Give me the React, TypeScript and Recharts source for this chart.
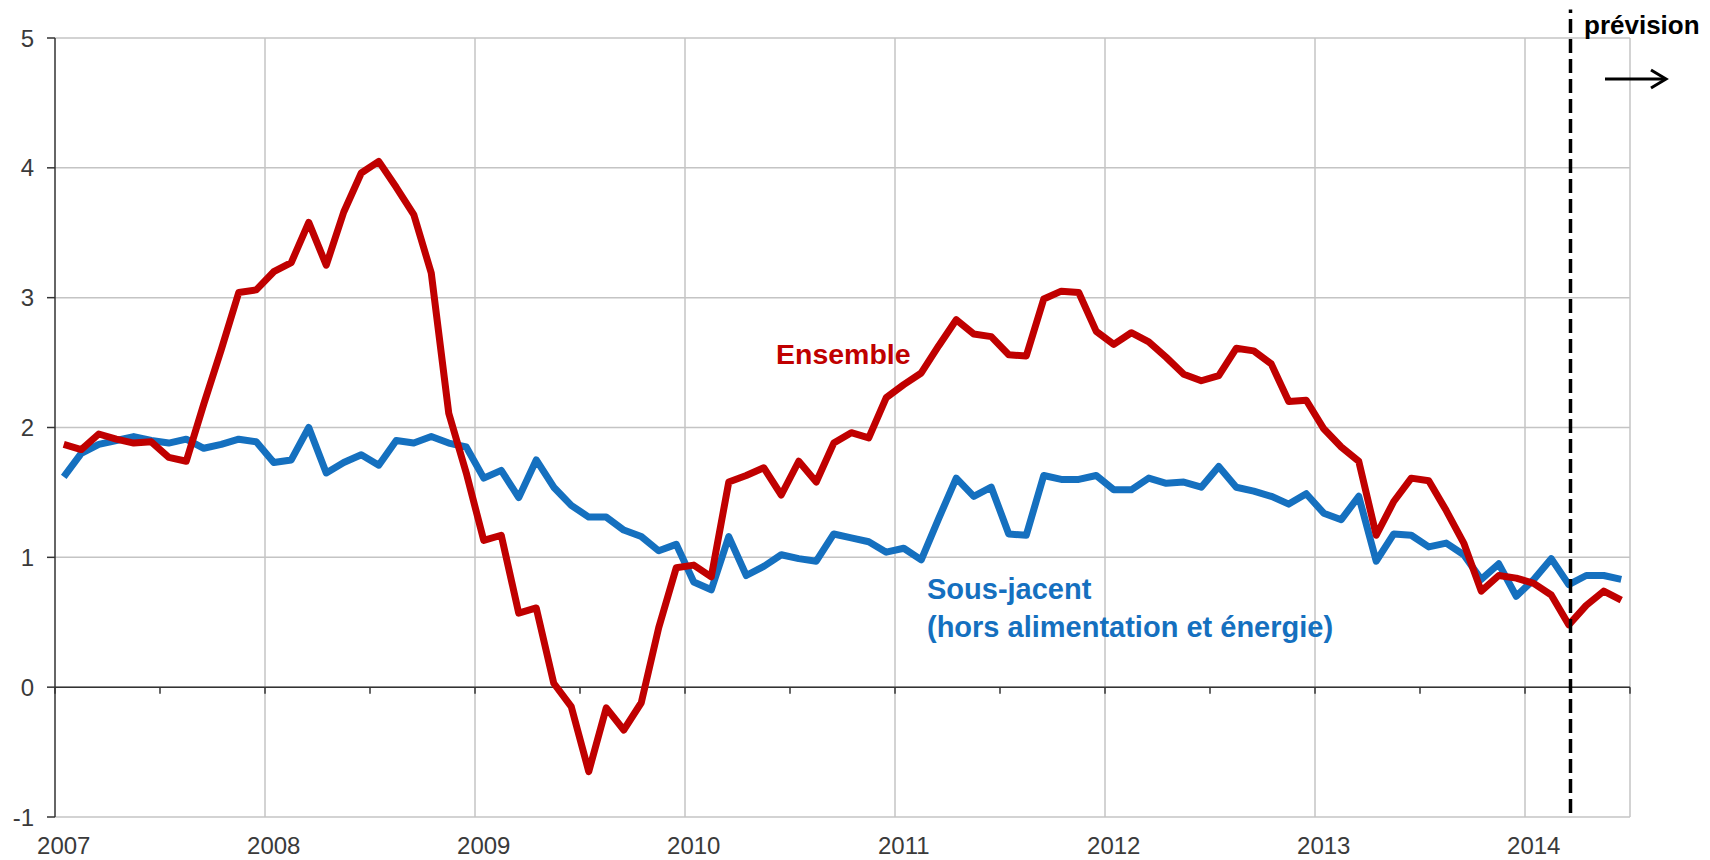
import React from 'react';
import { LineChart, Line, XAxis, YAxis, CartesianGrid, ReferenceLine } from 'recharts';

// monthly year-on-year inflation, Jan 2007 .. Jun 2014
const YEARS = ['2007', '2008', '2009', '2010', '2011', '2012', '2013', '2014'];

const ENSEMBLE = [
  1.87, 1.83, 1.95, 1.91, 1.88, 1.89, 1.77, 1.74, 2.18, 2.6, 3.04, 3.06,
  3.2, 3.27, 3.58, 3.25, 3.66, 3.96, 4.05, 3.85, 3.64, 3.19, 2.11, 1.65,
  1.13, 1.17, 0.57, 0.61, 0.03, -0.15, -0.65, -0.16, -0.33, -0.12, 0.46, 0.92,
  0.94, 0.85, 1.58, 1.63, 1.69, 1.48, 1.74, 1.58, 1.88, 1.96, 1.92, 2.23,
  2.33, 2.42, 2.63, 2.83, 2.72, 2.7, 2.56, 2.55, 2.99, 3.05, 3.04, 2.74,
  2.64, 2.73, 2.66, 2.54, 2.41, 2.36, 2.4, 2.61, 2.59, 2.49, 2.2, 2.21,
  1.99, 1.85, 1.74, 1.17, 1.43, 1.61, 1.59, 1.36, 1.11, 0.74, 0.86, 0.84,
  0.8, 0.71, 0.48, 0.63, 0.74, 0.67,
];

const SOUS_JACENT = [
  1.62, 1.8, 1.87, 1.9, 1.93, 1.9, 1.88, 1.91, 1.84, 1.87, 1.91, 1.89,
  1.73, 1.75, 2.0, 1.65, 1.73, 1.79, 1.71, 1.9, 1.88, 1.93, 1.88, 1.85,
  1.61, 1.67, 1.46, 1.75, 1.54, 1.4, 1.31, 1.31, 1.21, 1.16, 1.05, 1.1,
  0.81, 0.75, 1.16, 0.86, 0.93, 1.02, 0.99, 0.97, 1.18, 1.15, 1.12, 1.04,
  1.07, 0.98, 1.3, 1.61, 1.47, 1.54, 1.18, 1.17, 1.63, 1.6, 1.6, 1.63,
  1.52, 1.52, 1.61, 1.57, 1.58, 1.54, 1.7, 1.54, 1.51, 1.47, 1.41, 1.49,
  1.34, 1.29, 1.47, 0.97, 1.18, 1.17, 1.08, 1.11, 1.02, 0.83, 0.95, 0.7,
  0.83, 0.99, 0.79, 0.86, 0.86, 0.83,
];

const Y_TICKS = [-1, 0, 1, 2, 3, 4, 5];
const X_LABEL_TICKS = YEARS.map((_, k) => k * 12 + 0.5);
const YEAR_LINES = [12, 24, 36, 48, 60, 72, 84, 90];
const HALF_YEAR_TICKS = [0, 6, 12, 18, 24, 30, 36, 42, 48, 54, 60, 66, 72, 78, 84, 90];
const FORECAST_START = 86.6;

const data = ENSEMBLE.map((v, i) => ({ m: i + 0.5, ensemble: v, sousJacent: SOUS_JACENT[i] }));

const FONT = '"Liberation Sans", Arial, sans-serif';
const RED = '#C00000';
const BLUE = '#1570BF';
const GRID = '#c4c4c4';
const AXIS = '#333';
const LABEL = '#3a3a3a';

const App = () => {
  return (
    <div style={{ position: 'absolute', left: 0, top: 0, width: 1710, height: 860, background: '#fff', fontFamily: FONT }}>
      <LineChart width={1710} height={860} data={data} margin={{ top: 38, right: 80, left: 0, bottom: 0 }}>
        <CartesianGrid vertical={false} stroke={GRID} strokeWidth={1.5} />
        {YEAR_LINES.map((x) => (
          <ReferenceLine key={'g' + x} x={x} stroke={GRID} strokeWidth={1.5} />
        ))}
        <XAxis
          dataKey="m"
          type="number"
          domain={[0, 90]}
          ticks={X_LABEL_TICKS}
          tickFormatter={(v: number) => YEARS[Math.round((v - 0.5) / 12)]}
          axisLine={false}
          tickLine={false}
          tickSize={0}
          tickMargin={20}
          height={43}
          interval={0}
          tick={{ fill: LABEL, fontSize: 24, fontFamily: FONT }}
        />
        <YAxis
          type="number"
          domain={[-1, 5]}
          ticks={Y_TICKS}
          width={55}
          interval={0}
          axisLine={{ stroke: AXIS, strokeWidth: 1.5 }}
          tickLine={{ stroke: AXIS, strokeWidth: 1.5 }}
          tickSize={8}
          tickMargin={13}
          tick={{ fill: LABEL, fontSize: 24, fontFamily: FONT }}
        />
        <ReferenceLine y={0} stroke={AXIS} strokeWidth={1.5} />
        {HALF_YEAR_TICKS.map((x) => (
          <ReferenceLine
            key={'t' + x}
            segment={[{ x, y: 0 }, { x, y: -0.05 }]}
            stroke={AXIS}
            strokeWidth={1.5}
          />
        ))}
        <Line
          type="linear"
          dataKey="sousJacent"
          stroke={BLUE}
          strokeWidth={7}
          dot={false}
          strokeLinejoin="round"
          isAnimationActive={false}
        />
        <Line
          type="linear"
          dataKey="ensemble"
          stroke={RED}
          strokeWidth={7}
          dot={false}
          strokeLinejoin="round"
          isAnimationActive={false}
        />
        <ReferenceLine
          segment={[{ x: FORECAST_START, y: -0.97 }, { x: FORECAST_START, y: 5.22 }]}
          ifOverflow="visible"
          stroke="#000"
          strokeWidth={3.5}
          strokeDasharray="14 6"
        />
      </LineChart>
      <svg width={1710} height={860} style={{ position: 'absolute', left: 0, top: 0, pointerEvents: 'none' }}>
        <text x={776} y={364} fontFamily={FONT} fontWeight="bold" fontSize={28.5} fill={RED}>
          Ensemble
        </text>
        <text x={927} y={599} fontFamily={FONT} fontWeight="bold" fontSize={29} fill={BLUE}>
          Sous-jacent
        </text>
        <text x={927} y={637} fontFamily={FONT} fontWeight="bold" fontSize={29} fill={BLUE}>
          (hors alimentation et énergie)
        </text>
        <text x={1584} y={34} fontFamily={FONT} fontWeight="bold" fontSize={26} fill="#000">
          prévision
        </text>
        <line x1={1605} y1={79} x2={1664} y2={79} stroke="#000" strokeWidth={3} />
        <polyline points="1651,70 1666,79 1651,88" fill="none" stroke="#000" strokeWidth={3} />
      </svg>
    </div>
  );
};

export default App;
